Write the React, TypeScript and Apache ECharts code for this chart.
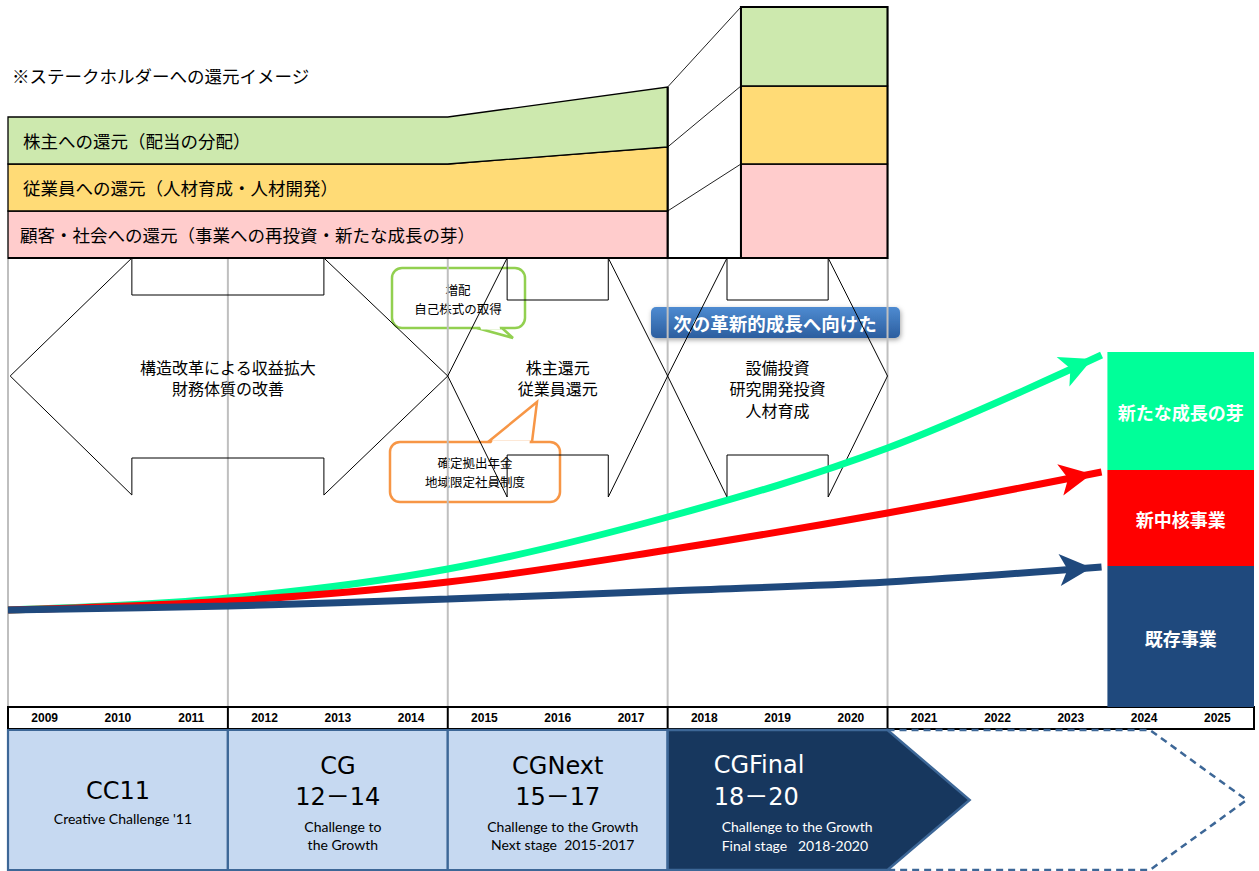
import React, { useEffect, useRef } from 'react';
import * as echarts from 'echarts';

// ---------------- data ----------------
const years = ['2009', '2010', '2011', '2012', '2013', '2014', '2015', '2016', '2017', '2018', '2019', '2020', '2021', '2022', '2023', '2024', '2025'];

const chartTitle = '※ステークホルダーへの還元イメージ';

// stakeholder return bands (bottom -> top), sampled at 2009 start, 2015 start, 2017 end, and the 2019-2020 box
const returnLabels = ['顧客・社会への還元（事業への再投資・新たな成長の芽）', '従業員への還元（人材育成・人材開発）', '株主への還元（配当の分配）'];
const returnX = [0, 6, 9];
const returnBoxX = [10, 12];
const returnBase = 449;
const customerReturn = [47, 47, 47, 94];
const employeeReturn = [47, 47, 64, 78];
const shareholderReturn = [47, 47, 60, 79];

// strategy arrows
const strategyStart = [0, 6, 9];
const strategyEnd = [6, 9, 12];
const strategyTexts = [
  ['構造改革による収益拡大', '財務体質の改善'],
  ['株主還元', '従業員還元'],
  ['設備投資', '研究開発投資', '人材育成'],
];
const bannerText = '次の革新的成長へ向けた';
const shareholderNotes = ['増配', '自己株式の取得'];
const employeeNotes = ['確定拠出年金', '地域限定社員制度'];

// growth curves
const curveX = [0, 3, 6, 9, 12, 14.92];
const existingCurve = [97, 101, 108, 116, 125, 140];
const coreCurve = [97, 106, 125, 157, 194, 235];
const seedCurve = [97, 109, 138, 190, 259, 352];

// business portfolio bar (2024-2025)
const businessLabels = ['既存事業', '新中核事業', '新たな成長の芽'];
const businessValues = [141, 96, 118];
const businessX = [15, 17];

// mid-term plans
const programNames = ['CC11', 'CG', 'CGNext', 'CGFinal', ''];
const programPeriods = ['', '12－14', '15－17', '18－20', ''];
const programTaglines = [
  ["Creative Challenge '11"],
  ['Challenge to', 'the Growth'],
  ['Challenge to the Growth', 'Next stage  2015-2017'],
  ['Challenge to the Growth', 'Final stage   2018-2020'],
  [],
];
const programStart = [0, 3, 6, 9, 12];
const programEnd = [3, 6, 9, 13.12, 16.9];
const phaseBoundaries = [0, 3, 6, 9, 12];

// ---------------- layout / style ----------------
const W = 1259;
const H = 871;
const Y_MIN = -163;
const Y_MAX = 700;
const X_MAX = 17;
const PX_PER_X = 1246 / 17;
const CJK = "'Noto Sans CJK JP', 'Noto Sans', sans-serif";
const LATIN = "'DejaVu Sans', 'Noto Sans CJK JP', sans-serif";
const LATO = "Lato, 'Open Sans', sans-serif";

type Opt = { align?: string; va?: string; color?: string; weight?: string; family?: string; lineHeight?: number };
function textEl(x: number, y: number, text: string, size: number, o: Opt = {}) {
  const align = o.align || 'center';
  const va = o.va || 'middle';
  const style: any = {
    text,
    fill: o.color || '#000',
    font: `${o.weight || 'normal'} ${size}px ${o.family || CJK}`,
    align,
    textAlign: align,
    verticalAlign: va,
    textVerticalAlign: va,
  };
  if (o.lineHeight) style.lineHeight = o.lineHeight;
  return { type: 'text', x, y, style };
}
function lineEl(a: number[], b: number[], stroke: string, lineWidth: number) {
  return { type: 'line', shape: { x1: a[0], y1: a[1], x2: b[0], y2: b[1] }, style: { stroke, lineWidth } };
}

function renderGridLines(params: any, api: any) {
  const x = phaseBoundaries[params.dataIndex];
  const a = api.coord([x, returnBase]);
  const b = api.coord([x, 0]);
  return lineEl(a, b, '#bfbfbf', 2);
}

function renderReturns(params: any, api: any) {
  const P = (x: number, v: number) => api.coord([x, v]);
  const bands = [customerReturn, employeeReturn, shareholderReturn];
  const n = customerReturn.length;
  const levels: number[][] = [];
  for (let i = 0; i < n; i++) {
    let acc = returnBase;
    const row = [acc];
    bands.forEach((b) => {
      acc += b[i];
      row.push(acc);
    });
    levels.push(row);
  }
  const colors = ['#ffcccc', '#ffdb76', '#cde9ae'];
  const children: any[] = [];
  const leftN = returnX.length;
  for (let k = 0; k < 3; k++) {
    const pts: number[][] = [];
    for (let i = 0; i < leftN; i++) pts.push(P(returnX[i], levels[i][k]));
    for (let i = leftN - 1; i >= 0; i--) pts.push(P(returnX[i], levels[i][k + 1]));
    children.push({ type: 'polygon', shape: { points: pts }, style: { fill: colors[k], stroke: '#000', lineWidth: 1.3 } });
    const a = P(returnBoxX[0], levels[n - 1][k + 1]);
    const b = P(returnBoxX[1], levels[n - 1][k]);
    children.push({ type: 'rect', shape: { x: a[0], y: a[1], width: b[0] - a[0], height: b[1] - a[1] }, style: { fill: colors[k], stroke: '#000', lineWidth: 1.3 } });
    const c = P(returnX[leftN - 1], levels[leftN - 1][k + 1]);
    children.push(lineEl(c, a, '#222', 1));
    const lp = P(returnX[0], (levels[0][k] + levels[0][k + 1]) / 2);
    children.push(textEl(lp[0] + (k === 0 ? 12 : 15), lp[1], returnLabels[k], 17.5, { align: 'left' }));
  }
  children.push(lineEl(P(returnX[0], returnBase), P(returnBoxX[1], returnBase), '#000', 2));
  children.push(lineEl(P(returnX[leftN - 1], returnBase), P(returnX[leftN - 1], levels[leftN - 1][3]), '#000', 2.2));
  const t = P(returnBoxX[0], levels[n - 1][3]);
  const u = P(returnBoxX[1], returnBase);
  children.push({ type: 'rect', shape: { x: t[0], y: t[1], width: u[0] - t[0], height: u[1] - t[1] }, style: { fill: 'none', stroke: '#000', lineWidth: 2 } });
  return { type: 'group', children };
}

function renderStrategy(params: any, api: any) {
  const i = params.dataIndex;
  const s = strategyStart[i];
  const e = strategyEnd[i];
  const hl = i === 0 ? 1.69 : 0.81;
  const sx = i === 0 ? s + 0.03 : s;
  const TIP = 331;
  const HT = 449;
  const ST = i === 0 ? 412 : 407;
  const SB = i === 0 ? 249 : 252;
  const HB = i === 0 ? 212 : 210;
  const pts = [
    [sx, TIP], [s + hl, HT], [s + hl, ST], [e - hl, ST], [e - hl, HT], [e, TIP],
    [e - hl, HB], [e - hl, SB], [s + hl, SB], [s + hl, HB],
  ].map((p) => api.coord(p));
  const c = api.coord([(s + e) / 2, 351]);
  return {
    type: 'group',
    children: [
      { type: 'polygon', shape: { points: pts }, style: { fill: 'none', stroke: '#000', lineWidth: 1 } },
      textEl(c[0], c[1], strategyTexts[i].join('\n'), 16, { va: 'top', lineHeight: 21.5 }),
    ],
  };
}

function renderBusiness(params: any, api: any) {
  const i = params.dataIndex;
  const colors = ['#1f497d', '#ff0000', '#00ff99'];
  let bottom = 0;
  for (let k = 0; k < i; k++) bottom += businessValues[k];
  const top = bottom + businessValues[i];
  const a = api.coord([businessX[0], top]);
  const b = api.coord([businessX[1], bottom]);
  const c = api.coord([(businessX[0] + businessX[1]) / 2, (top + bottom) / 2]);
  return {
    type: 'group',
    children: [
      { type: 'rect', shape: { x: a[0], y: a[1], width: b[0] - a[0], height: b[1] - a[1] }, style: { fill: colors[i] } },
      textEl(c[0], c[1] + 1, businessLabels[i], 18, { color: '#fff', weight: 'bold' }),
    ],
  };
}

function renderYearFrame(params: any, api: any) {
  const P = (x: number, v: number) => api.coord([x, v]);
  const a = P(0, 0);
  const b = P(X_MAX, -22);
  const children: any[] = [
    { type: 'rect', shape: { x: a[0], y: a[1], width: b[0] - a[0], height: b[1] - a[1] }, style: { fill: 'none', stroke: '#000', lineWidth: 2 } },
  ];
  phaseBoundaries.slice(1).forEach((x) => children.push(lineEl(P(x, 0), P(x, -22), '#000', 2)));
  return { type: 'group', children };
}

function renderProgram(params: any, api: any) {
  const i = params.dataIndex;
  const P = (x: number, v: number) => api.coord([x, v]);
  const s = programStart[i];
  const e = programEnd[i];
  const TOP = -23;
  const BOT = -163;
  const children: any[] = [];
  if (i < 3) {
    const a = P(s, TOP);
    const b = P(e, BOT);
    children.push({ type: 'rect', shape: { x: a[0], y: a[1], width: b[0] - a[0], height: b[1] - a[1] }, style: { fill: '#c6d9f1', stroke: '#3d6797', lineWidth: 2.2 } });
    const cx = P((s + e) / 2, 0)[0];
    const hasPeriod = !!programPeriods[i];
    if (hasPeriod) {
      children.push(textEl(cx, P(0, -59)[1], programNames[i], 24, { family: LATIN }));
      children.push(textEl(cx, P(0, -90)[1], programPeriods[i], 24, { family: LATIN }));
    } else {
      children.push(textEl(cx, P(0, -84)[1], programNames[i], 24, { family: LATIN }));
    }
    const t0 = hasPeriod ? -119 : -111;
    programTaglines[i].forEach((t, k) => {
      children.push(textEl(cx + 5, P(0, t0 - k * 18.5)[1], t, 14, { family: LATO }));
    });
  } else {
    const head = i === 3 ? 1.12 : 1.32;
    const mid = (TOP + BOT) / 2;
    const pts = [P(s, TOP), P(e - head, TOP), P(e, mid), P(e - head, BOT), P(s, BOT)];
    if (i === 3) {
      children.push({ type: 'polygon', z2: 10, shape: { points: pts }, style: { fill: '#17375e', stroke: '#3d6797', lineWidth: 2.5 } });
      const lx = P(s, 0)[0];
      children.push({ ...textEl(lx + 46, P(0, -58)[1], programNames[i], 24, { family: LATIN, color: '#fff', align: 'left' }), z2: 11 });
      children.push({ ...textEl(lx + 46, P(0, -90)[1], programPeriods[i], 24, { family: LATIN, color: '#fff', align: 'left' }), z2: 11 });
      programTaglines[i].forEach((t, k) => {
        children.push({ ...textEl(lx + 54, P(0, -119 - k * 19)[1], t, 14, { family: LATO, color: '#fff', align: 'left' }), z2: 11 });
      });
    } else {
      children.push({ type: 'polygon', z2: 1, shape: { points: pts }, style: { fill: 'none', stroke: '#3d6797', lineWidth: 2.5, lineDash: [7, 5] } });
    }
  }
  return { type: 'group', children };
}

const ARROW_W = 24;
const ARROW_H = 32;
function curveData(vals: number[]) {
  const n = curveX.length;
  return curveX.map((x, i) => {
    if (i < n - 1) return [x, vals[i]];
    const dx = (curveX[n - 1] - curveX[n - 2]) * PX_PER_X;
    const dy = vals[n - 1] - vals[n - 2];
    const th = Math.atan2(dy, dx);
    const back = ARROW_H / 2 - 6;
    return {
      value: [x, vals[i]],
      symbol: 'arrow',
      symbolSize: [ARROW_W, ARROW_H],
      symbolRotate: (th * 180) / Math.PI - 90,
      symbolOffset: [-back * Math.cos(th), back * Math.sin(th)],
    };
  });
}

function curveSeries(name: string, vals: number[], color: string) {
  return {
    type: 'line',
    name,
    xAxisIndex: 1,
    yAxisIndex: 0,
    data: curveData(vals),
    smooth: 0.35,
    showSymbol: true,
    symbol: 'circle',
    symbolSize: 0,
    clip: false,
    silent: true,
    z: 5,
    lineStyle: { color, width: 7 },
    itemStyle: { color },
  };
}

function callout(x: number, y: number, w: number, h: number, b1: number[], b2: number[], tip: number[], color: string, lines: string[], tx: number, ty: number) {
  const inward = tip[1] > y + h / 2 ? -1 : 1;
  const by = b1[1];
  const cover = [
    [b1[0] + 2.5, by + inward * 2.5],
    [b2[0] - 2.5, by + inward * 2.5],
    [b2[0] - 2.5 + (tip[0] - b2[0]) * 0.05, by - inward * 1.6],
    [b1[0] + 2.5 + (tip[0] - b1[0]) * 0.05, by - inward * 1.6],
  ];
  return {
    type: 'group',
    z: 100,
    children: [
      { type: 'polygon', shape: { points: [b1, tip, b2] }, style: { fill: '#fff', stroke: color, lineWidth: 2.5 } },
      { type: 'rect', shape: { x, y, width: w, height: h, r: 10 }, style: { fill: 'rgba(255,255,255,0.85)', stroke: color, lineWidth: 2.5 } },
      { type: 'polygon', shape: { points: cover }, style: { fill: '#fff' } },
      textEl(tx, ty, lines.join('\n'), 12.5, { lineHeight: 18.5 }),
    ],
  };
}

function buildOption(): any {
  return {
    animation: false,
    backgroundColor: '#fff',
    grid: { left: 8, right: 5, top: 7, bottom: 1, containLabel: false, outerBoundsMode: 'none' },
    xAxis: [
      {
        type: 'category',
        data: years,
        boundaryGap: true,
        position: 'bottom',
        offset: Y_MIN,
        axisLine: { show: true, onZero: false, lineStyle: { color: '#000', width: 2 } },
        axisTick: { show: false },
        splitLine: { show: false },
        axisLabel: { interval: 0, margin: 5, color: '#000', fontSize: 12, fontWeight: 'bold', fontFamily: "'Liberation Sans', Arial, sans-serif" },
      },
      { type: 'value', min: 0, max: X_MAX, show: false, position: 'top' },
    ],
    yAxis: [{ type: 'value', min: Y_MIN, max: Y_MAX, show: false }],
    graphic: [
      textEl(12, 75, chartTitle, 17.5, { align: 'left' }),
      callout(392, 268, 133, 60, [477, 328], [502, 328], [513, 338], '#92d050', shareholderNotes, 458, 299),
      callout(390, 442, 170, 60, [488, 442], [532, 442], [537, 402], '#f79646', employeeNotes, 475, 472),
      {
        type: 'group',
        z: 100,
        children: [
          {
            type: 'rect',
            shape: { x: 651, y: 307, width: 249, height: 31, r: 5 },
            style: {
              fill: new echarts.graphic.LinearGradient(0, 0, 0, 1, [
                { offset: 0, color: '#4e8bd1' },
                { offset: 1, color: '#2c5e9f' },
              ]),
              shadowBlur: 5,
              shadowColor: 'rgba(0,0,0,0.35)',
              shadowOffsetX: 1,
              shadowOffsetY: 2,
            },
          },
          textEl(775, 323, bannerText, 18.5, { color: '#fff', weight: 'bold' }),
        ],
      },
    ],
    series: [
      { type: 'custom', name: 'grid', xAxisIndex: 1, yAxisIndex: 0, clip: false, silent: true, z: 1, data: phaseBoundaries.map((x) => [x, 0]), renderItem: renderGridLines },
      { type: 'custom', name: 'returns', xAxisIndex: 1, yAxisIndex: 0, clip: false, silent: true, z: 2, data: [[0, returnBase]], renderItem: renderReturns },
      { type: 'custom', name: 'strategy', xAxisIndex: 1, yAxisIndex: 0, clip: false, silent: true, z: 3, data: strategyStart.map((s, i) => [s, strategyEnd[i]]), renderItem: renderStrategy },
      { type: 'custom', name: 'years', xAxisIndex: 1, yAxisIndex: 0, clip: false, silent: true, z: 3, data: [[0, 0]], renderItem: renderYearFrame },
      { type: 'custom', name: 'programs', xAxisIndex: 1, yAxisIndex: 0, clip: false, silent: true, z: 3, data: programStart.map((s, i) => [s, programEnd[i]]), renderItem: renderProgram },
      { type: 'custom', name: 'business', xAxisIndex: 1, yAxisIndex: 0, clip: false, silent: true, z: 4, data: businessValues.map((v, i) => [businessX[0], v]), renderItem: renderBusiness },
      curveSeries('新たな成長の芽', seedCurve, '#00ff99'),
      curveSeries('新中核事業', coreCurve, '#ff0000'),
      curveSeries('既存事業', existingCurve, '#1f497d'),
    ],
  };
}

export default function App() {
  const ref = useRef<HTMLDivElement>(null);
  useEffect(() => {
    if (!ref.current) return;
    const chart = echarts.init(ref.current, undefined, { renderer: 'svg', width: W, height: H });
    chart.setOption(buildOption());
    return () => chart.dispose();
  }, []);
  return <div ref={ref} style={{ position: 'absolute', left: 0, top: 0, width: W, height: H, background: '#fff' }} />;
}
